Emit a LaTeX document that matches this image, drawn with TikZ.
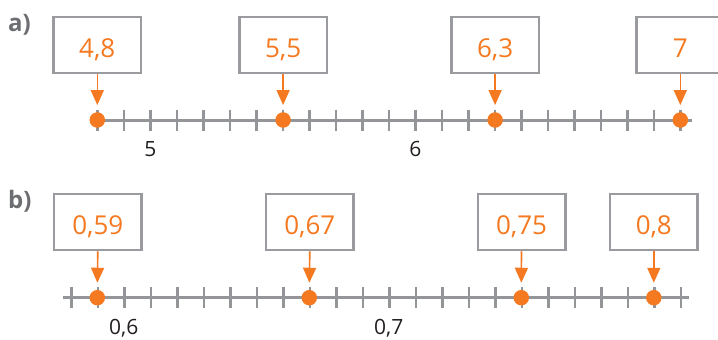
\documentclass[tikz,border=0pt]{standalone}
\usepackage{fontspec}
\setmainfont{Open Sans}
\usetikzlibrary{arrows.meta}
\definecolor{org}{HTML}{F47920}
\definecolor{axg}{HTML}{939598}
\definecolor{boxg}{HTML}{999B9E}
\definecolor{lblg}{HTML}{6D6E71}
\definecolor{txt}{HTML}{231F20}
\begin{document}
\begin{tikzpicture}[x=1pt,y=-1pt,
 valbox/.style={draw=boxg,line width=2.5pt,minimum width=87.5pt,minimum height=56pt,inner sep=0pt,text=org,font=\fontsize{26}{26}\selectfont,text height=25pt,text depth=0pt},
 pt/.style={circle,fill=org,minimum size=15.5pt,inner sep=0pt},
 pointer/.style={draw=org,line width=1.6pt,-{Triangle[length=15pt,width=13pt]},shorten >=7pt},
 axisline/.style={draw=axg,line width=3pt},
 tickline/.style={draw=axg,line width=2.5pt},
 numlbl/.style={text=txt,font=\fontsize{21}{21}\selectfont,anchor=base,inner sep=0pt},
 partlbl/.style={text=lblg,font=\bfseries\fontsize{24}{24}\selectfont,anchor=base west,inner sep=0pt}]
\useasboundingbox (0,0) rectangle (718,340);
\clip (0,0) rectangle (718,340);

% ---------- part a ----------
\node[partlbl] (la) at (8,31.5) {a)};
\coordinate (al) at (90,120);
\coordinate (ar) at (692,120);
\draw[axisline] (al) -- (ar);
\foreach \i in {0,...,22} \draw[tickline] ({97.3+26.5*\i},109.5) -- ++(0,21);
\node[numlbl] (n5) at (150.3,156.7) {5};
\node[numlbl] (n6) at (415.3,156.7) {6};

\node[pt] (a1) at (97.3,120) {};
\node[pt] (a2) at (283.1,120) {};
\node[pt] (a3) at (495.1,120) {};
\node[pt] (a4) at (680.3,120) {};
\node[valbox] (ba1) at (97.3,45) {4,8};
\node[valbox] (ba2) at (283.1,45) {5,5};
\node[valbox] (ba3) at (495.1,45) {6,3};
\node[valbox] (ba4) at (680.3,45) {7};
\foreach \k in {1,2,3,4} \draw[pointer] (ba\k.south) -- (a\k.north);

% ---------- part b ----------
\node[partlbl] (lb) at (8,208.5) {b)};
\coordinate (bl) at (63,297.7);
\coordinate (br) at (689,297.7);
\draw[axisline] (bl) -- (br);
\foreach \i in {0,...,23} \draw[tickline] ({71.7+26.5*\i},287.2) -- ++(0,21);
\node[numlbl] (n06) at (123.8,334) {0,6};
\node[numlbl] (n07) at (388.8,334) {0,7};

\node[pt] (b1) at (97.3,297.7) {};
\node[pt] (b2) at (309.3,297.7) {};
\node[pt] (b3) at (521.3,297.7) {};
\node[pt] (b4) at (653.8,297.7) {};
\node[valbox] (bb1) at (97.8,222) {0,59};
\node[valbox] (bb2) at (309.8,222) {0,67};
\node[valbox] (bb3) at (521.5,222) {0,75};
\node[valbox] (bb4) at (653.8,222) {0,8};
\foreach \k in {1,2,3,4} \draw[pointer] (bb\k.south) -- (b\k.north);
\end{tikzpicture}
\end{document}
